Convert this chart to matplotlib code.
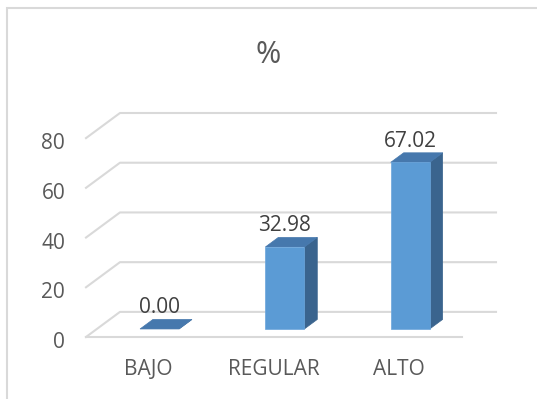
import matplotlib.pyplot as plt
from matplotlib.patches import Polygon, Rectangle
from matplotlib.transforms import ScaledTranslation

categorias = ["BAJO", "REGULAR", "ALTO"]
valores = [0.00, 32.98, 67.02]
ticks_y = [0, 20, 40, 60, 80]

plt.rcParams['font.family'] = ['Open Sans', 'DejaVu Sans']

# profundidad del "3D" en unidades de datos
DX, DY = 0.271, 10.1
ANCHO = 0.311
F0, F1 = 0.32, 0.70  # posicion de la barra dentro de la profundidad

fig = plt.figure(figsize=(5.37, 3.99), dpi=100)
ax = fig.add_axes([86 / 537, 62 / 399, 410 / 537, 224 / 399])
ax.set_xlim(-0.5, 2.5 + DX)
ax.set_ylim(0, 80 + DY)

gris = "#d9d9d9"
for t in ticks_y:
    ax.plot([-0.5, -0.5 + DX, 2.5 + DX], [t, t + DY, t + DY],
            color=gris, lw=1.5, clip_on=False, zorder=1)
ax.plot([-0.5, 2.5], [0, 0], color=gris, lw=1.5, clip_on=False, zorder=1)

frente, tapa, lado = "#5b9bd5", "#4678ad", "#3a648e"
for i, v in enumerate(valores):
    x0, x1 = i - ANCHO / 2 + F0 * DX, i + ANCHO / 2 + F0 * DX
    y0 = F0 * DY
    ddx, ddy = (F1 - F0) * DX, (F1 - F0) * DY
    ax.add_patch(Polygon([(x1, y0), (x1 + ddx, y0 + ddy), (x1 + ddx, y0 + ddy + v), (x1, y0 + v)],
                         closed=True, facecolor=lado, edgecolor=lado, lw=0.5, clip_on=False, zorder=3))
    ax.add_patch(Polygon([(x0, y0 + v), (x1, y0 + v), (x1 + ddx, y0 + ddy + v), (x0 + ddx, y0 + ddy + v)],
                         closed=True, facecolor=tapa, edgecolor=tapa, lw=0.5, clip_on=False, zorder=4))
    if v > 0:
        ax.add_patch(Rectangle((x0, y0), x1 - x0, v, facecolor=frente, edgecolor="#6aa5dc",
                               lw=0.5, clip_on=False, zorder=5))
    ax.annotate(f"{v:.2f}", (i + F0 * DX, F1 * DY + v), xytext=(0, 4.5), textcoords="offset points",
                ha="center", va="baseline", fontsize=15, color="#404040", zorder=6)

ax.set_yticks(ticks_y)
ax.set_xticks(range(len(categorias)))
ax.set_xticklabels(categorias)
ax.tick_params(axis="y", length=0, pad=15, labelsize=15, labelcolor="#595959")
ax.tick_params(axis="x", length=0, pad=16, labelsize=15, labelcolor="#595959")
# etiquetas del eje y un poco mas abajo, como en Excel
for lab in ax.get_yticklabels():
    lab.set_transform(lab.get_transform() + ScaledTranslation(0, -3 / 100, fig.dpi_scale_trans))
for s in ax.spines.values():
    s.set_visible(False)
ax.patch.set_visible(False)

fig.text(268 / 537, 1 - 55 / 399, "%", ha="center", va="center", fontsize=22, color="#595959")

fig.patches.append(Rectangle((7 / 537, -0.1), 1.2, 1.1 - 8 / 399, transform=fig.transFigure,
                             fill=False, edgecolor=gris, lw=1.5))

plt.savefig("out.png", dpi=100)
